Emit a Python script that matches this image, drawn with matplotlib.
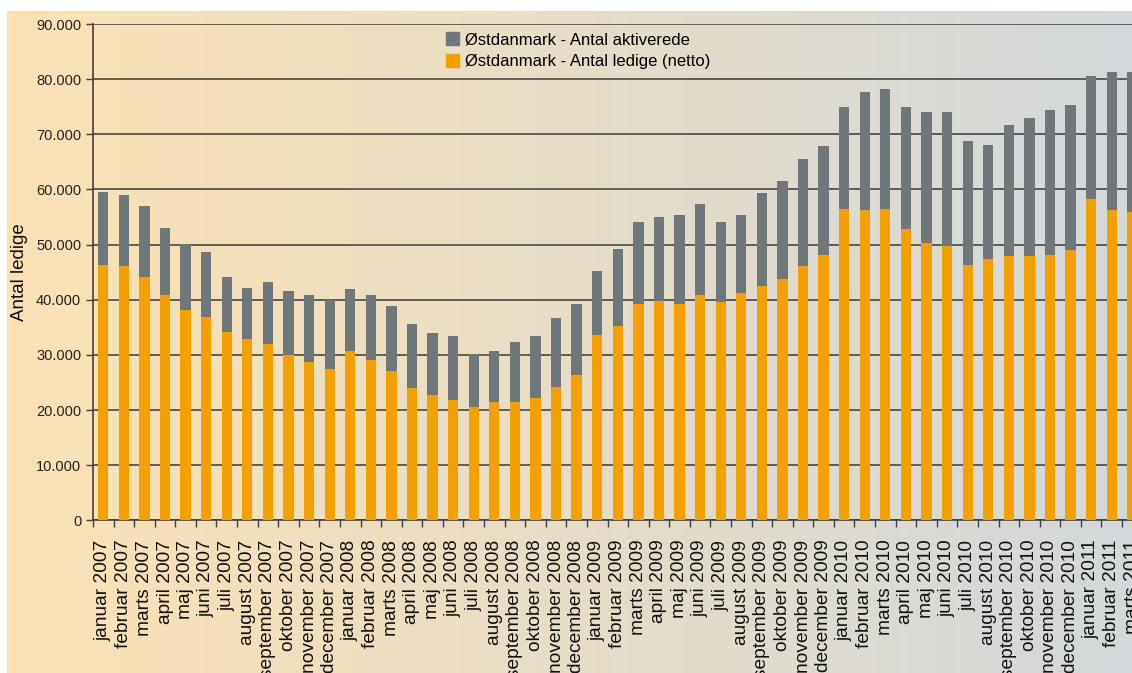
import numpy as np
import matplotlib
matplotlib.use("Agg")
import matplotlib.pyplot as plt
from matplotlib.patches import Patch
from matplotlib.ticker import FuncFormatter, MultipleLocator

plt.rcParams['font.family'] = ['Liberation Sans', 'DejaVu Sans']

# months jan 2007 - marts 2011
month_names = ["januar", "februar", "marts", "april", "maj", "juni", "juli",
               "august", "september", "oktober", "november", "december"]
months = [f"{m} {y}" for y in range(2007, 2012) for m in month_names][:51]

# Østdanmark - antal ledige (netto)
ledige = [46300, 46100, 44100, 40900, 38100, 36900, 34200, 32900, 32000, 30000,
          28700, 27400, 30700, 29100, 27100, 24000, 22700, 21800, 20500, 21500,
          21500, 22200, 24200, 26400, 33600, 35300, 39300, 39800, 39300, 40900,
          39600, 41200, 42500, 43800, 46100, 48100, 56500, 56300, 56500, 52900,
          50300, 49800, 46300, 47400, 48000, 48000, 48100, 49000, 58300, 56300,
          55900]
# Østdanmark - antal aktiverede
aktiverede = [13200, 12900, 12900, 12100, 12000, 11800, 9900, 9200, 11200, 11600,
              12200, 12600, 11300, 11800, 11800, 11600, 11300, 11600, 9700, 9200,
              10800, 11200, 12500, 12900, 11600, 13900, 14800, 15200, 16100, 16500,
              14500, 14200, 16900, 17700, 19400, 19800, 18500, 21400, 21800, 22100,
              23800, 24300, 22500, 20700, 23700, 25000, 26300, 26300, 22300, 25000,
              25400]

orange = "#F4A000"
grey = "#70777A"
W, H = 1132, 673

fig = plt.figure(figsize=(W / 100, H / 100), dpi=100, facecolor="white")

# gradient background panel
bg = fig.add_axes([7 / W, 0, 1 - 7 / W, (H - 11) / H], zorder=-10)
c_left = np.array([251, 226, 180]) / 255
c_right = np.array([211, 216, 219]) / 255
t = np.linspace(0, 1, 256)[None, :, None]
grad = c_left * (1 - t) + c_right * t
bg.imshow(grad, aspect="auto", extent=[0, 1, 0, 1])
bg.axis("off")

ax = fig.add_axes([93 / W, (H - 520.3) / H, 51 * 20.58 / W, (520.3 - 24) / H])
ax.set_facecolor("none")

x = np.arange(len(months))
ax.bar(x, ledige, width=0.5, color=orange, zorder=3)
ax.bar(x, aktiverede, width=0.5, bottom=ledige, color=grey, zorder=3)

ax.set_xlim(-0.5, len(months) - 0.5)
ax.set_ylim(0, 90000)
ax.yaxis.set_major_locator(MultipleLocator(10000))
ax.yaxis.set_major_formatter(FuncFormatter(lambda v, p: f"{int(v):,}".replace(",", ".")))
ax.grid(axis="y", color="#3a3a3a", linewidth=1.1, zorder=1)

ax.set_xticks(x)
ax.set_xticklabels(months, rotation=90, fontsize=13.8, color="#111111")
ax.set_xticks(np.arange(-0.5, len(months), 1), minor=True)
ax.tick_params(axis="x", which="major", length=0, pad=14)
ax.tick_params(axis="x", which="minor", length=5, width=1, color="#404040")
ax.tick_params(axis="y", length=5, width=1, color="#404040", labelsize=10.5,
               labelcolor="#222222")

for s in ["top", "right"]:
    ax.spines[s].set_visible(False)
for s in ["left", "bottom"]:
    ax.spines[s].set_color("#404040")
    ax.spines[s].set_linewidth(1.2)

ax.set_ylabel("Antal ledige", fontsize=13.5, color="#111111", labelpad=6)

handles = [Patch(color=grey), Patch(color=orange)]
labels = ["Østdanmark - Antal aktiverede", "Østdanmark - Antal ledige (netto)"]
fig.legend(handles, labels, loc="upper left", bbox_to_anchor=(446 / W, 1 - 32 / H),
           frameon=False, fontsize=12, handlelength=0.8, handleheight=0.8,
           handletextpad=0.35, labelspacing=0.4, borderpad=0, borderaxespad=0)

fig.savefig("out.png", dpi=100, facecolor="white")
